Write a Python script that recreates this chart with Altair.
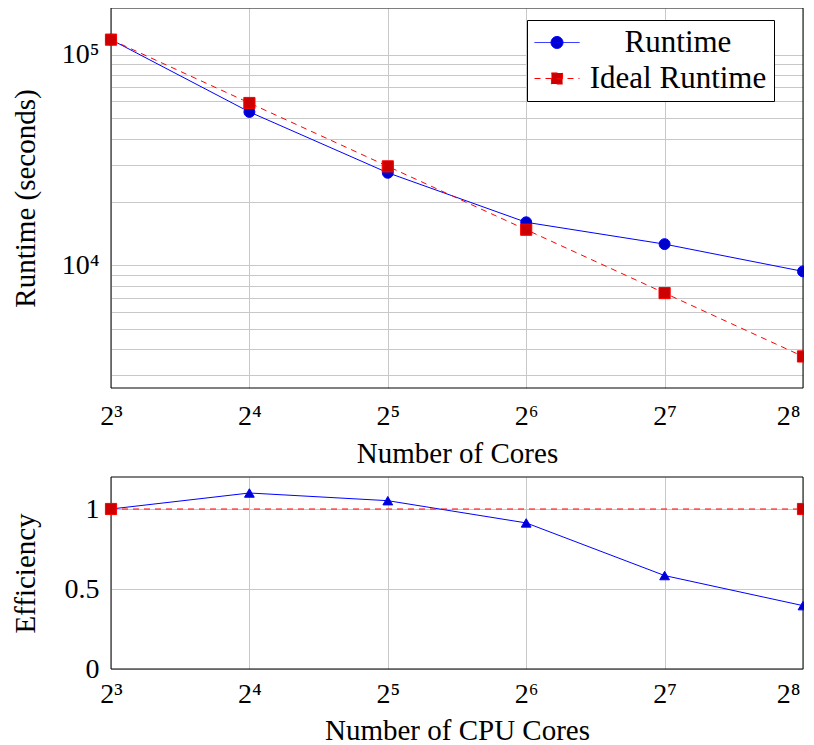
import altair as alt
import pandas as pd

# ---- data ----
cores = [8, 16, 32, 64, 128, 256]
runtime = [118000, 53500, 27500, 16000, 12600, 9350]
ideal_runtime = [118000, 59000, 29500, 14750, 7375, 3687.5]
efficiency = [1.0, 1.10, 1.052, 0.913, 0.584, 0.396]
ideal_eff_cores = [8, 256]
ideal_efficiency = [1.0, 1.0]

series_names = ["Runtime", "Ideal Runtime"]

x_ticks = [8, 16, 32, 64, 128, 256]
x_tick_labels = ["2³", "2⁴", "2⁵", "2⁶", "2⁷", "2⁸"]
y_top_grid = [3000, 4000, 5000, 6000, 7000, 8000, 9000,
              10000, 20000, 30000, 40000, 50000, 60000, 70000, 80000, 90000,
              100000]
y_top_label_values = [10000, 100000]
y_top_label_texts = ["10⁴", "10⁵"]
y_bot_ticks = [0, 0.5, 1]
y_bot_labels = ["0", "0.5", "1"]

FONT = "Liberation Serif"
BLUE = "#0000ff"
BLUE_FILL = "#0000cc"
RED = "#ff0000"
RED_FILL = "#cc0000"
GRID = "#c8c8c8"


def list_expr(values, labels):
    vals = "[" + ",".join(str(v) for v in values) + "]"
    labs = "[" + ",".join("'" + l + "'" for l in labels) + "]"
    return f"indexof({vals}, datum.value) >= 0 ? {labs}[indexof({vals}, datum.value)] : ''"


df_top = pd.DataFrame({"cores": cores, "runtime": runtime, "ideal": ideal_runtime})
df_bot = pd.DataFrame({"cores": cores, "eff": efficiency})
df_ideal_eff = pd.DataFrame({"cores": ideal_eff_cores, "eff": ideal_efficiency})
df_frame = pd.DataFrame({"f": [0]})
df_series = pd.DataFrame({"series": series_names})

x_scale = alt.Scale(type="log", base=2, domain=[8, 256], nice=False)
last_tick_test = f"datum.value >= {x_ticks[-1]}"


def x_axis(title, label_pad, title_pad):
    return alt.Axis(values=x_ticks, labelExpr=list_expr(x_ticks, x_tick_labels),
                    title=title, grid=True, ticks=False, domain=False,
                    labelPadding=label_pad, titlePadding=title_pad, labelFlush=False,
                    labelOverlap=False,
                    labelAlign={"condition": {"test": last_tick_test, "value": "right"}, "value": "center"},
                    labelOffset={"condition": {"test": last_tick_test, "value": -3}, "value": 0})


y_top_scale = alt.Scale(type="log", domain=[2611, 166800], nice=False)
y_top_axis = alt.Axis(values=y_top_grid,
                      labelExpr=list_expr(y_top_label_values, y_top_label_texts),
                      title="Runtime (seconds)", grid=True, ticks=False, domain=False,
                      labelPadding=12, titlePadding=21, minExtent=50, maxExtent=50,
                      labelOverlap=False)

y_bot_scale = alt.Scale(domain=[0, 1.2], nice=False, zero=False)
y_bot_axis = alt.Axis(values=y_bot_ticks, labelExpr=list_expr(y_bot_ticks, y_bot_labels),
                      title="Efficiency", grid=True, ticks=False, domain=False,
                      labelPadding=12, titlePadding=21, minExtent=50, maxExtent=50,
                      labelOverlap=False)

frame = alt.Chart(df_frame).mark_rect(filled=False, stroke="black", strokeWidth=1).encode(
    x=alt.value(0), x2=alt.value("width"), y=alt.value(0), y2=alt.value("height"))

# ---- top panel ----
xt = alt.X("cores:Q", scale=x_scale, axis=x_axis("Number of Cores", 14, 9))
rt_line = alt.Chart(df_top).mark_line(color=BLUE, strokeWidth=1).encode(
    x=xt, y=alt.Y("runtime:Q", scale=y_top_scale, axis=y_top_axis))
rt_pts = alt.Chart(df_top).mark_point(shape="circle", filled=True, fill=BLUE_FILL, stroke=BLUE,
                                      strokeWidth=1, size=120, opacity=1).encode(
    x=xt, y=alt.Y("runtime:Q", scale=y_top_scale, axis=y_top_axis))
id_line = alt.Chart(df_top).mark_line(color=RED, strokeWidth=1, strokeDash=[6, 5]).encode(
    x=xt, y=alt.Y("ideal:Q", scale=y_top_scale, axis=y_top_axis))
id_pts = alt.Chart(df_top).mark_point(shape="square", filled=True, fill=RED_FILL, stroke=RED,
                                      strokeWidth=1, size=125, opacity=1).encode(
    x=xt, y=alt.Y("ideal:Q", scale=y_top_scale, axis=y_top_axis))

# legend symbols: line segment plus marker (unit = 15 px for symbol size 900)
circle_path = "M-1,0H2M0.9,0A0.4,0.4,0,1,1,0.1,0A0.4,0.4,0,1,1,0.9,0Z"
square_path = "M-1,0H2M0.13,-0.37H0.87V0.37H0.13Z"

leg = alt.Legend(title=None, orient="none", legendX=416, legendY=12, fillColor="white",
                 strokeColor="black", padding=7, labelFont=FONT, labelFontSize=31,
                 labelColor="black", labelAlign="center", labelOffset=113, rowPadding=4,
                 symbolSize=900, symbolStrokeWidth=1, symbolOpacity=1, cornerRadius=0,
                 labelLimit=400)
legend_layer = alt.Chart(df_series).transform_filter("false").mark_point(
    filled=True, size=900, strokeWidth=1, opacity=1).encode(
    shape=alt.Shape("series:N", scale=alt.Scale(domain=series_names, range=[circle_path, square_path]), legend=leg),
    fill=alt.Fill("series:N", scale=alt.Scale(domain=series_names, range=[BLUE_FILL, RED_FILL]), legend=leg),
    stroke=alt.Stroke("series:N", scale=alt.Scale(domain=series_names, range=[BLUE, RED]), legend=leg),
    strokeDash=alt.StrokeDash("series:N", scale=alt.Scale(domain=series_names, range=[[1, 0], [6, 5]]), legend=leg),
)

top = alt.layer(frame, rt_line, rt_pts, id_line, id_pts, legend_layer).properties(width=692, height=380)

# ---- bottom panel ----
xb = alt.X("cores:Q", scale=x_scale, axis=x_axis("Number of CPU Cores", 11, 8))
eff_line = alt.Chart(df_bot).mark_line(color=BLUE, strokeWidth=1).encode(
    x=xb, y=alt.Y("eff:Q", scale=y_bot_scale, axis=y_bot_axis))
eff_pts = alt.Chart(df_bot).mark_point(shape="triangle-up", filled=True, fill=BLUE_FILL, stroke=BLUE,
                                       strokeWidth=1, size=95, opacity=1).encode(
    x=xb, y=alt.Y("eff:Q", scale=y_bot_scale, axis=y_bot_axis))
ie_line = alt.Chart(df_ideal_eff).mark_line(color=RED, strokeWidth=1, strokeDash=[6, 5]).encode(
    x=xb, y=alt.Y("eff:Q", scale=y_bot_scale, axis=y_bot_axis))
ie_pts = alt.Chart(df_ideal_eff).mark_point(shape="square", filled=True, fill=RED_FILL, stroke=RED,
                                            strokeWidth=1, size=125, opacity=1).encode(
    x=xb, y=alt.Y("eff:Q", scale=y_bot_scale, axis=y_bot_axis))

bottom = alt.layer(frame, eff_line, eff_pts, ie_line, ie_pts).properties(width=692, height=192)

chart = alt.vconcat(top, bottom, spacing=8).properties(
    padding={"left": 3, "top": -1, "right": -7, "bottom": 0}
).configure_view(stroke=None).configure_axis(
    labelFont=FONT, labelFontSize=28, labelColor="black",
    titleFont=FONT, titleFontSize=29, titleFontWeight="normal", titleColor="black",
    gridColor=GRID, gridWidth=1,
)

chart.save("out.html", embed_options={"renderer": "svg", "actions": False})
